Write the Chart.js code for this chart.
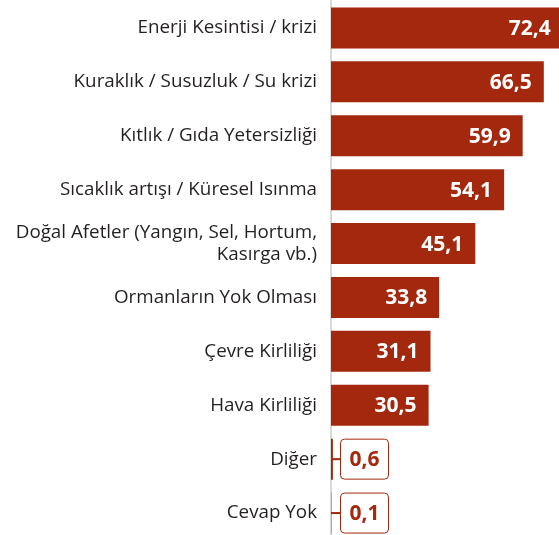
<!DOCTYPE html>
<html>
<head>
<meta charset="utf-8">
<script src="https://cdn.jsdelivr.net/npm/chart.js@4.4.1/dist/chart.umd.min.js"></script>
<style>
  html, body { margin: 0; padding: 0; background: #fff; overflow: hidden; }
  #wrap { position: absolute; left: 0; top: 0; width: 559px; height: 540px; }
</style>
</head>
<body>
<div id="wrap"><canvas id="c"></canvas></div>
<script>
const categories = [
  'Enerji Kesintisi / krizi',
  'Kuraklık / Susuzluk / Su krizi',
  'Kıtlık / Gıda Yetersizliği',
  'Sıcaklık artışı / Küresel Isınma',
  ['Doğal Afetler (Yangın, Sel, Hortum,', 'Kasırga vb.)'],
  'Ormanların Yok Olması',
  'Çevre Kirliliği',
  'Hava Kirliliği',
  'Diğer',
  'Cevap Yok'
];
const values = [72.4, 66.5, 59.9, 54.1, 45.1, 33.8, 31.1, 30.5, 0.6, 0.1];
const valueLabels = ['72,4', '66,5', '59,9', '54,1', '45,1', '33,8', '31,1', '30,5', '0,6', '0,1'];

const RED = '#A3280E';
const FONT = "'Open Sans', sans-serif";

const labelPlugin = {
  id: 'valueLabels',
  afterDatasetsDraw(chart) {
    const ctx = chart.ctx;
    const meta = chart.getDatasetMeta(0);
    const area = chart.chartArea;
    ctx.save();
    meta.data.forEach((bar, i) => {
      const v = values[i];
      const txt = valueLabels[i];
      const y = bar.y;
      const h = bar.height;
      if (v >= 5) {
        ctx.fillStyle = '#fff';
        ctx.font = "bold 21px " + FONT;
        ctx.textAlign = 'right';
        ctx.textBaseline = 'middle';
        ctx.fillText(txt, Math.min(bar.x - 12, area.right - 6), y + 1);
      } else {
        const bx = bar.base + 9.5;
        const bw = 48;
        const top = y - h / 2 + 0.5;
        ctx.strokeStyle = RED;
        ctx.lineWidth = 2;
        ctx.beginPath();
        ctx.moveTo(bar.base, y);
        ctx.lineTo(bx, y);
        ctx.stroke();
        ctx.lineWidth = 1;
        ctx.fillStyle = '#fff';
        ctx.beginPath();
        ctx.roundRect(bx, top, bw, h - 1, 4);
        ctx.fill();
        ctx.stroke();
        ctx.fillStyle = RED;
        ctx.font = "bold 21px " + FONT;
        ctx.textAlign = 'center';
        ctx.textBaseline = 'middle';
        ctx.fillText(txt, bx + bw / 2, y + 1);
      }
    });
    ctx.restore();
  }
};

new Chart(document.getElementById('c'), {
  type: 'bar',
  data: {
    labels: categories,
    datasets: [{
      data: values,
      backgroundColor: RED,
      borderWidth: 0,
      barPercentage: 0.76,
      categoryPercentage: 1.0
    }]
  },
  options: {
    indexAxis: 'y',
    responsive: true,
    maintainAspectRatio: false,
    animation: false,
    events: [],
    layout: { padding: { top: 1, bottom: 0, left: 0, right: 0 } },
    plugins: { legend: { display: false }, tooltip: { enabled: false } },
    scales: {
      x: { display: false, min: 0, max: 71.25 },
      y: {
        afterFit(scale) {
          scale.width = 331;
          scale.paddingTop = 0;
          scale.paddingBottom = 0;
        },
        grid: { display: true, color: 'rgba(0,0,0,0)', drawTicks: false },
        border: { display: true, color: '#d9d9d9', width: 2 },
        ticks: {
          color: '#231f20',
          padding: 14,
          font: { family: FONT, size: 18.8, lineHeight: 1.13 }
        }
      }
    }
  },
  plugins: [labelPlugin]
});
</script>
</body>
</html>
